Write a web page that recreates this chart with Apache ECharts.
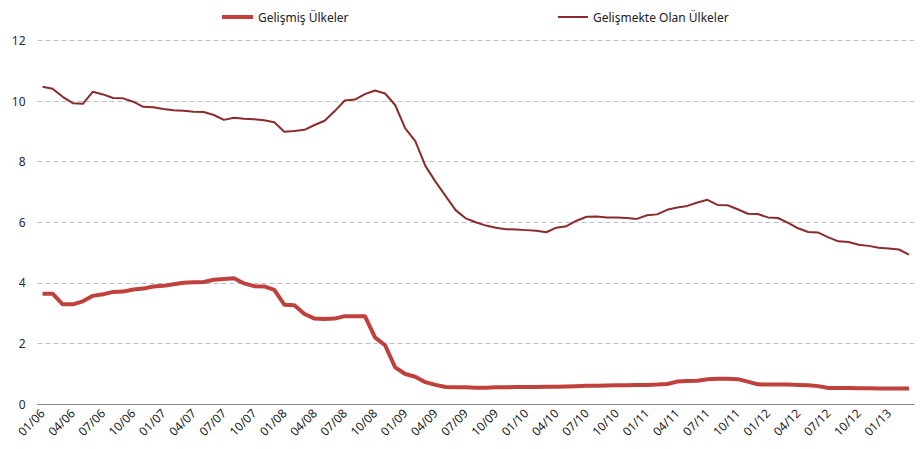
<!DOCTYPE html>
<html>
<head>
<meta charset="utf-8">
<style>
  html, body { margin: 0; padding: 0; background: #fff; }
  #chart { width: 923px; height: 449px; }
</style>
<script src="https://cdn.jsdelivr.net/npm/echarts@6/dist/echarts.min.js"></script>
</head>
<body>
<div id="chart"></div>
<script>
// months 01/06 .. 03/13
var years = ['06', '07', '08', '09', '10', '11', '12', '13'];
var months = ['01', '02', '03', '04', '05', '06', '07', '08', '09', '10', '11', '12'];
var categories = [];
years.forEach(function(y) {
  months.forEach(function(m) { categories.push(m + '/' + y); });
});
categories = categories.slice(0, 87);

var seriesNames = ['Gelişmiş Ülkeler', 'Gelişmekte Olan Ülkeler'];

var developed = [
  3.64, 3.64, 3.29, 3.29, 3.39, 3.57, 3.62, 3.70, 3.71, 3.78, 3.81, 3.88,
  3.90, 3.95, 4.00, 4.02, 4.03, 4.10, 4.13, 4.15, 3.98, 3.89, 3.88, 3.77,
  3.28, 3.26, 2.97, 2.82, 2.81, 2.82, 2.90, 2.90, 2.90, 2.20, 1.94, 1.21,
  0.99, 0.90, 0.72, 0.63, 0.56, 0.55, 0.55, 0.54, 0.54, 0.55, 0.55, 0.56,
  0.56, 0.56, 0.57, 0.57, 0.58, 0.59, 0.60, 0.60, 0.61, 0.62, 0.62, 0.63,
  0.63, 0.64, 0.66, 0.74, 0.76, 0.77, 0.82, 0.83, 0.83, 0.82, 0.74, 0.65,
  0.64, 0.64, 0.64, 0.63, 0.62, 0.59, 0.53, 0.53, 0.53, 0.52, 0.52, 0.51,
  0.51, 0.51, 0.51
];

var emerging = [
  10.47, 10.41, 10.14, 9.93, 9.91, 10.31, 10.22, 10.10, 10.09, 9.98, 9.81, 9.80,
  9.74, 9.70, 9.68, 9.65, 9.64, 9.54, 9.38, 9.45, 9.42, 9.40, 9.37, 9.30,
  8.99, 9.01, 9.05, 9.21, 9.35, 9.67, 10.02, 10.05, 10.23, 10.35, 10.25, 9.87,
  9.10, 8.68, 7.86, 7.34, 6.87, 6.40, 6.13, 6.00, 5.89, 5.82, 5.77, 5.76,
  5.74, 5.72, 5.67, 5.82, 5.87, 6.05, 6.18, 6.19, 6.16, 6.16, 6.14, 6.11,
  6.23, 6.26, 6.41, 6.49, 6.54, 6.65, 6.74, 6.57, 6.56, 6.43, 6.28, 6.27,
  6.16, 6.14, 5.98, 5.80, 5.68, 5.66, 5.50, 5.37, 5.35, 5.26, 5.22, 5.16,
  5.13, 5.10, 4.93
];

var red = '#c0403c';
var darkRed = '#8c2b2b';
var font = '"Noto Sans", sans-serif';

var chart = echarts.init(document.getElementById('chart'), null, { renderer: 'svg' });
chart.setOption({
  animation: false,
  textStyle: { fontFamily: font },
  legend: [{
    data: [seriesNames[0]],
    left: 217,
    top: 6,
    icon: 'rect',
    itemWidth: 31,
    itemHeight: 4,
    textStyle: { color: '#222', fontSize: 12, fontFamily: font }
  }, {
    data: [seriesNames[1]],
    left: 553,
    top: 6,
    icon: 'rect',
    itemWidth: 30,
    itemHeight: 2,
    textStyle: { color: '#222', fontSize: 12, fontFamily: font }
  }],
  grid: { left: 37.5, right: 9, top: 40.5, bottom: 45, containLabel: false },
  xAxis: {
    type: 'category',
    data: categories,
    boundaryGap: true,
    axisLine: { lineStyle: { color: '#888', width: 1 } },
    axisTick: { interval: 2, length: 5, lineStyle: { color: '#888' } },
    axisLabel: {
      interval: 2,
      rotate: 45,
      color: '#222',
      fontSize: 12,
      margin: 7
    },
    splitLine: { show: false }
  },
  yAxis: {
    type: 'value',
    min: 0,
    max: 12,
    interval: 2,
    axisLine: { show: false },
    axisTick: { show: false },
    axisLabel: { color: '#1f2a40', fontSize: 12, margin: 12 },
    splitLine: { lineStyle: { color: '#c0c0c0', type: [5, 3], width: 1 } }
  },
  series: [{
    name: seriesNames[0],
    type: 'line',
    data: developed,
    symbol: 'none',
    lineStyle: { color: red, width: 4 },
    itemStyle: { color: red }
  }, {
    name: seriesNames[1],
    type: 'line',
    data: emerging,
    symbol: 'none',
    lineStyle: { color: darkRed, width: 2 },
    itemStyle: { color: darkRed }
  }]
});
</script>
</body>
</html>
